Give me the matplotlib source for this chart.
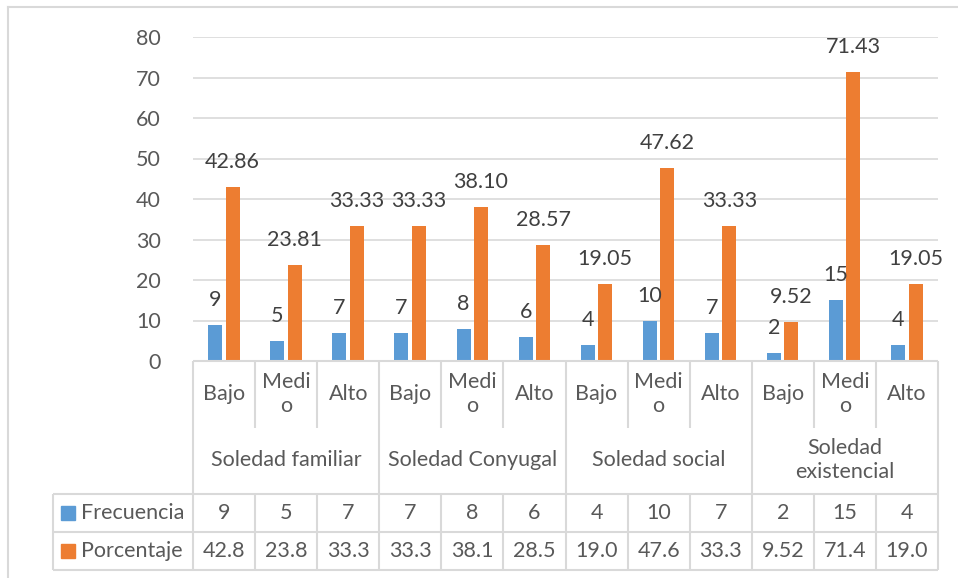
import numpy as np
import matplotlib.pyplot as plt
from matplotlib.patches import Rectangle

plt.rcParams['font.family'] = ['Lato', 'DejaVu Sans']

niveles = ['Bajo', 'Medio', 'Alto'] * 4
niveles_txt = ['Bajo', 'Medi\no', 'Alto'] * 4
grupos = ['Soledad familiar', 'Soledad Conyugal', 'Soledad social', 'Soledad\nexistencial']
frecuencia = [9, 5, 7, 7, 8, 6, 4, 10, 7, 2, 15, 4]
porcentaje = [42.86, 23.81, 33.33, 33.33, 38.10, 28.57, 19.05, 47.62, 33.33, 9.52, 71.43, 19.05]
frec_tabla = ['9', '5', '7', '7', '8', '6', '4', '10', '7', '2', '15', '4']
porc_tabla = ['42.8', '23.8', '33.3', '33.3', '38.1', '28.5', '19.0', '47.6', '33.3', '9.52', '71.4', '19.0']
series = ['Frecuencia', 'Porcentaje']
colores = ['#5B9BD5', '#ED7D31']

W, H = 958, 578
grid = '#d9d9d9'
txt = '#595959'
lbl = '#404040'
fs = 15.5

fig = plt.figure(figsize=(W / 100, H / 100), dpi=100)

# chart border (left + top visible)
fig.add_artist(plt.Line2D([8 / W, 8 / W], [0, 1 - 7 / H], color=grid, lw=1.5))
fig.add_artist(plt.Line2D([8 / W, 1], [1 - 7 / H, 1 - 7 / H], color=grid, lw=1.5))

# main plot
x0, x1, ytop, ybot = 193, 938, 37, 361
ax = fig.add_axes([x0 / W, 1 - ybot / H, (x1 - x0) / W, (ybot - ytop) / H])
n = len(frecuencia)
x = np.arange(n)
bw = 0.226
ax.bar(x - 0.142, frecuencia, bw, color=colores[0], zorder=3)
ax.bar(x + 0.138, porcentaje, bw, color=colores[1], zorder=3)
for i in range(n):
    ax.annotate(str(frecuencia[i]), (x[i] - 0.142, frecuencia[i]), xytext=(0, 18),
                textcoords='offset points', ha='center', va='center', fontsize=fs, color=lbl)
    ax.annotate('%.2f' % porcentaje[i], (x[i] + 0.138, porcentaje[i]), xytext=(0, 18),
                textcoords='offset points', ha='center', va='center', fontsize=fs, color=lbl)
ax.set_xlim(-0.5, n - 0.5)
ax.set_ylim(0, 80)
ax.set_yticks(range(0, 81, 10))
ax.yaxis.grid(True, color=grid, lw=1.2, zorder=0)
ax.tick_params(axis='y', length=0, pad=23, labelsize=fs, labelcolor=txt)
ax.set_xticks([])
for s in ax.spines.values():
    s.set_visible(False)

# data table
unit = (x1 - x0) / n
tl = 53
tb = fig.add_axes([tl / W, (H - 570) / H, (x1 - tl) / W, (570 - ybot) / H])
left = -0.5 - (x0 - tl) / unit
tb.set_xlim(left, n - 0.5)
tb.set_ylim(570, ybot)
tb.axis('off')
lk = dict(color=grid, lw=1.5, clip_on=False, solid_capstyle='butt')
tb.plot([-0.5, n - 0.5], [ybot, ybot], **lk)
for yy in (494, 532, 570):
    tb.plot([left, n - 0.5], [yy, yy], **lk)
tb.plot([left, left], [494, 570], **lk)
for i in range(n + 1):
    xb = i - 0.5
    if i % 3 == 0:
        tb.plot([xb, xb], [ybot, 570], **lk)
    else:
        tb.plot([xb, xb], [ybot, 428], **lk)
        tb.plot([xb, xb], [494, 570], **lk)

for i in range(n):
    tb.text(i, 394, niveles_txt[i], ha='center', va='center', fontsize=fs, color=txt,
            linespacing=1.3)
    tb.text(i, 513, frec_tabla[i], ha='center', va='center', fontsize=fs, color=txt)
    tb.text(i, 551, porc_tabla[i], ha='center', va='center', fontsize=fs, color=txt)
for g, name in enumerate(grupos):
    tb.text(3 * g + 1, 460, name, ha='center', va='center', fontsize=fs, color=txt,
            linespacing=1.3)

# legend keys in table
for r, (name, c) in enumerate(zip(series, colores)):
    yc = 513 + 38 * r
    sq = 14 / unit
    xs = left + 8 / unit
    tb.add_patch(Rectangle((xs, yc - 7), sq, 14, color=c, clip_on=False))
    tb.text(left + 28 / unit, yc, name, ha='left', va='center', fontsize=fs, color=txt)

fig.savefig('out.png', dpi=100)
